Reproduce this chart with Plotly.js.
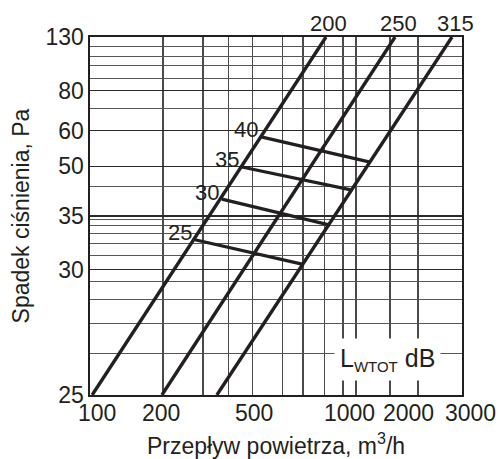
<!DOCTYPE html>
<html>
<head>
<meta charset="utf-8">
<script src="https://cdn.plot.ly/plotly-3.0.1.min.js"></script>
<style>
html,body{margin:0;padding:0;background:#fff;}
#chart{width:501px;height:459px;}
</style>
</head>
<body>
<div id="chart"></div>
<script>
// ---- data ----
// x axis: air flow, m3/h (log scale)
const flowTicks = [100, 200, 500, 1000, 2000, 3000];
// y axis: pressure drop, Pa, as labelled on the nomogram
const pressureTicks = [25, 30, 35, 50, 60, 80, 130];
// position of each pressure label on the nomogram's logarithmic grid
const pressureGrid = [0.1, 0.5, 1, 1.9, 3, 5, 10];

// duct diameter lines
const diameters = ['200', '250', '315'];
const diamFlowLow = [102, 193, 319];
const diamPaLow = [25, 25, 25];
const diamFlowHigh = [865, 1626, 2738];
const diamPaHigh = [130, 130, 130];

// sound power level lines L_WTOT, dB
const dbLevels = ['25', '30', '35', '40'];
const rungFlowStart = [261, 334, 401, 478];
const rungPaStart = [32.7, 39.5, 49.7, 58.1];
const rungFlowEnd = [695, 897, 1087, 1282];
const rungPaEnd = [30.5, 34.1, 42.2, 51.1];

// grid lines of the nomogram
const flowGridLines = [195, 281, 356, 440, 579, 701, 850, 1011, 1138, 1553, 2006];
const pressureGridLines = [0.17, 0.25, 0.34, 0.43, 0.6, 0.7, 0.8, 0.89, 0.95, 1.47, 4, 5.9, 6.9, 7.8, 8.9];

// nomogram pressure scale: Pa -> position on the log grid
function paToAxis(p) {
  const lp = Math.log10(p);
  let i = 0;
  while (i < pressureTicks.length - 2 && p > pressureTicks[i + 1]) i++;
  const a = Math.log10(pressureTicks[i]), b = Math.log10(pressureTicks[i + 1]);
  const ga = Math.log10(pressureGrid[i]), gb = Math.log10(pressureGrid[i + 1]);
  const t = (lp - a) / (b - a);
  return Math.pow(10, ga + t * (gb - ga));
}

const ink = '#231f20';
const FONT = 'Liberation Sans, Arial, Helvetica, sans-serif';
// typographic nudges of the x tick labels as set on the reference (px)
const flowLabelNudge = [7, -5, -12, 8, -9, 8];

const traces = [];
diameters.forEach((d, i) => {
  traces.push({
    type: 'scatter', mode: 'lines', name: d,
    x: [diamFlowLow[i], diamFlowHigh[i]],
    y: [paToAxis(diamPaLow[i]), paToAxis(diamPaHigh[i])],
    line: {color: ink, width: 3.4},
    hoverinfo: 'skip', showlegend: false
  });
});
dbLevels.forEach((d, i) => {
  traces.push({
    type: 'scatter', mode: 'lines', name: d + ' dB',
    x: [rungFlowStart[i], rungFlowEnd[i]],
    y: [paToAxis(rungPaStart[i]), paToAxis(rungPaEnd[i])],
    line: {color: ink, width: 3.2},
    hoverinfo: 'skip', showlegend: false
  });
});

const annotations = [];
// x tick labels
flowTicks.forEach((v, i) => {
  annotations.push({
    x: Math.log10(v), y: 0, xref: 'x', yref: 'paper', text: String(v),
    showarrow: false, xanchor: 'center', yanchor: 'top',
    xshift: flowLabelNudge[i], yshift: -3,
    font: {family: FONT, size: 23, color: ink}
  });
});
diameters.forEach((d, i) => {
  annotations.push({
    x: Math.log10(diamFlowHigh[i]), y: Math.log10(paToAxis(diamPaHigh[i])),
    xref: 'x', yref: 'y', text: d, showarrow: false,
    xanchor: 'center', yanchor: 'bottom', yshift: -1, xshift: 3,
    font: {family: FONT, size: 22, color: ink}
  });
});
dbLevels.forEach((d, i) => {
  annotations.push({
    x: Math.log10(rungFlowStart[i]), y: Math.log10(paToAxis(rungPaStart[i])),
    xref: 'x', yref: 'y', text: d, showarrow: false,
    xanchor: 'right', yanchor: 'middle', xshift: -1, yshift: 7,
    font: {family: FONT, size: 22, color: ink}
  });
});
annotations.push({
  x: 0.8, y: 0.1, xref: 'paper', yref: 'paper',
  text: 'L<sub><span style="font-size:15px">WTOT</span></sub> dB',
  showarrow: false, xanchor: 'center', yanchor: 'middle',
  bgcolor: '#ffffff', borderpad: 5,
  font: {family: FONT, size: 25, color: ink}
});

const layout = {
  width: 501, height: 459,
  margin: {l: 90, r: 39, t: 37, b: 64, pad: 0},
  paper_bgcolor: '#ffffff', plot_bgcolor: '#ffffff',
  font: {family: FONT, size: 23, color: ink},
  showlegend: false,
  xaxis: {
    type: 'log', range: [Math.log10(100), Math.log10(3000)],
    tickmode: 'array', tickvals: flowTicks, showticklabels: false,
    ticks: '', showgrid: false, zeroline: false,
    showline: true, mirror: true, linecolor: ink, linewidth: 1.6,
    minor: {tickmode: 'array', tickvals: flowGridLines, showgrid: true, gridcolor: '#4a4a4a', gridwidth: 1.1, ticks: ''},
    title: {text: 'Przepływ powietrza, m<sup>3</sup>/h', font: {family: FONT, size: 23, color: ink}, standoff: 43},
    fixedrange: true
  },
  yaxis: {
    type: 'log', range: [-1, 1],
    tickmode: 'array', tickvals: pressureGrid, ticktext: pressureTicks.map(String),
    ticks: '', showgrid: true, gridcolor: '#2a2a2a', gridwidth: 1.2, zeroline: false,
    showline: true, mirror: true, linecolor: ink, linewidth: 1.6,
    tickfont: {family: FONT, size: 23, color: ink},
    minor: {tickmode: 'array', tickvals: pressureGridLines, showgrid: true, gridcolor: '#555555', gridwidth: 1, ticks: ''},
    title: {text: 'Spadek ciśnienia, Pa', font: {family: FONT, size: 23, color: ink}, standoff: 9},
    fixedrange: true
  },
  annotations: annotations
};

Plotly.newPlot('chart', traces, layout, {staticPlot: true, displayModeBar: false});
</script>
</body>
</html>
